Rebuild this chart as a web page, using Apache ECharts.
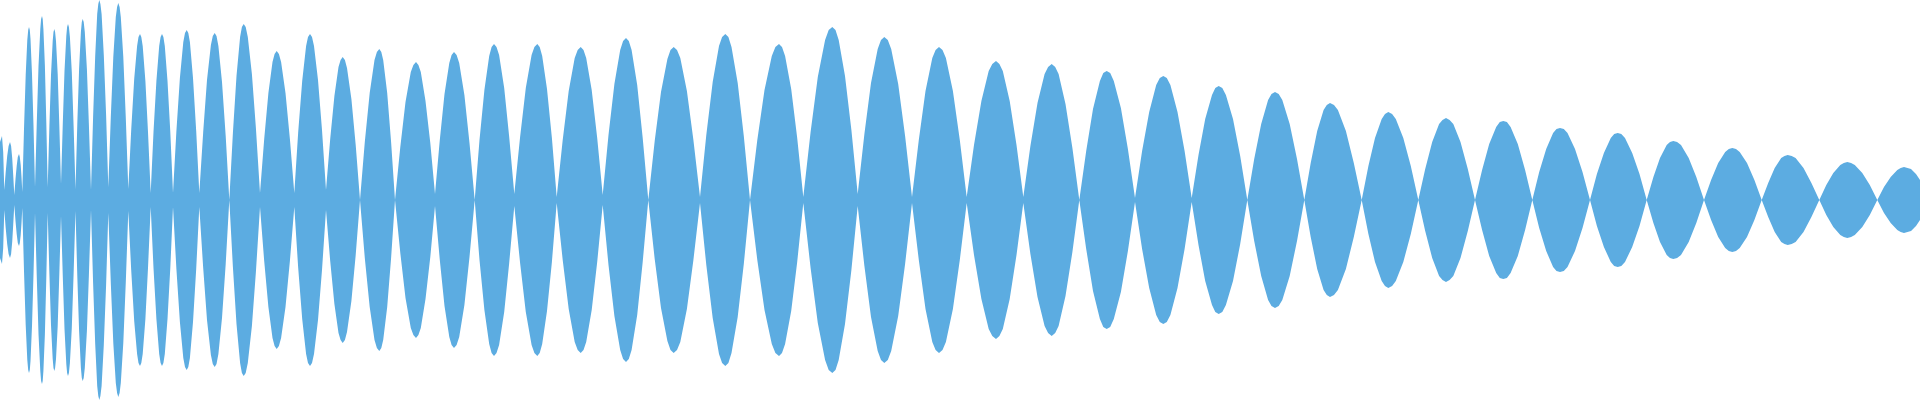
<!DOCTYPE html>
<html>
<head>
<meta charset="utf-8">
<script src="https://cdn.jsdelivr.net/npm/echarts@6/dist/echarts.min.js"></script>
<style>html,body{margin:0;padding:0;background:#fff;}#c{width:1920px;height:400px;}</style>
</head>
<body>
<div id="c"></div>
<script>
// Sample positions along the wave (x, 0..1920), one line per lobe
const waveX = [
0,2,3.2,4.3,
5.7,7.2,8.6,10,11.1,12.2,13.2,14.3,
15.5,16.7,17.8,19,19.8,20.7,21.5,22.3,
24.0,25.7,27.3,28.2,29,29.8,30.5,32,33.5,35,
36.8,38.5,40.3,41.1,42,42.7,43.4,44.9,46.3,47.7,
49.4,51.0,52.7,53.5,54.3,55.1,56.0,57.7,59.3,61,
62.8,64.5,66.3,67.1,68,68.9,69.9,71.8,73.6,75.5,
77.3,79.1,80.9,81.8,82.7,83.7,84.8,86.9,88.9,91,
93.1,95.2,97.2,98.3,99.3,100.4,101.6,103.8,106.1,108.3,
110.8,113.3,115.8,117.1,118.3,119.6,120.8,123.3,125.8,128.3,
131.2,134.2,137.1,138.5,140,141.3,142.7,145.4,148.0,150.7,
153.5,156.4,159.2,160.6,162,163.4,164.8,167.5,170.3,173,
176.4,179.9,183.3,185.0,186.7,188.3,189.9,193.0,196.2,199.3,
203.2,207.0,210.9,212.8,214.7,216.5,218.4,222.0,225.7,229.3,
232.9,236.5,240.1,241.9,243.7,245.7,247.8,251.9,255.9,260,
264.2,268.4,272.5,274.6,276.7,278.9,281.1,285.5,289.9,294.3,
298.2,302.2,306.1,308.0,310,312.0,314,318,322,326,
330.2,334.4,338.5,340.6,342.7,344.9,347.0,351.4,355.7,360,
364.8,369.7,374.5,376.9,379.3,381.3,383.2,387.2,391.1,395,
400.3,405.5,410.8,413.4,416,418.4,420.8,425.5,430.3,435,
439.8,444.5,449.3,451.6,454,456.6,459.2,464.4,469.5,474.7,
479.5,484.4,489.2,491.6,494,496.5,499.1,504.2,509.2,514.3,
520.1,525.8,531.6,534.4,537.3,539.7,542.2,547.0,551.9,556.7,
562.7,568.7,574.7,577.7,580.7,583.5,586.2,591.7,597.2,602.7,
608.5,614.4,620.2,623.1,626,628.8,631.6,637.2,642.7,648.3,
654.7,661.0,667.4,670.5,673.7,677.0,680.3,686.9,693.4,700,
706.3,712.7,719.0,722.1,725.3,728.4,731.5,737.7,743.8,750,
757.3,764.5,771.8,775.4,779,782.0,785.1,791.2,797.2,803.3,
810.6,817.8,825.1,828.7,832.3,835.5,838.7,845.0,851.4,857.7,
864.4,871.0,877.7,881.0,884.3,887.8,891.2,898.2,905.1,912,
918.8,925.5,932.3,935.6,939,942.5,945.9,952.9,959.8,966.7,
974.0,981.4,988.7,992.3,996,999.4,1002.8,1009.7,1016.5,1023.3,
1030.4,1037.5,1044.6,1048.1,1051.7,1055.2,1058.6,1065.5,1072.4,1079.3,
1086.2,1093.0,1099.9,1103.3,1106.7,1110.2,1113.8,1120.9,1127.9,1135,
1142.1,1149.2,1156.2,1159.8,1163.3,1166.8,1170.4,1177.5,1184.6,1191.7,
1198.5,1205.2,1212.0,1215.3,1218.7,1222.3,1225.9,1233.0,1240.2,1247.3,
1254.2,1261.2,1268.1,1271.5,1275,1278.7,1282.3,1289.7,1297.0,1304.3,
1310.7,1317.2,1323.6,1326.8,1330,1334.0,1337.9,1345.9,1353.8,1361.7,
1368.4,1375.0,1381.7,1385.0,1388.3,1392.1,1395.8,1403.3,1410.8,1418.3,
1425.2,1432.2,1439.1,1442.5,1446,1449.6,1453.3,1460.5,1467.8,1475,
1482.1,1489.2,1496.2,1499.8,1503.3,1506.9,1510.6,1517.8,1525.1,1532.3,
1539.2,1546.2,1553.1,1556.5,1560,1563.8,1567.5,1575,1582.5,1590,
1596.9,1603.9,1610.8,1614.2,1617.7,1621.3,1625.0,1632.2,1639.5,1646.7,
1653.4,1660.0,1666.7,1670.0,1673.3,1677.1,1681.0,1688.7,1696.3,1704,
1711.1,1718.2,1725.2,1728.8,1732.3,1736.0,1739.7,1747.0,1754.4,1761.7,
1768.2,1774.7,1781.2,1784.5,1787.7,1791.7,1795.6,1803.5,1811.4,1819.3,
1826.3,1833.3,1840.3,1843.8,1847.3,1851.1,1854.8,1862.3,1869.8,1877.3,
1884.0,1890.7,1897.3,1900.7,1904,1907.5,1911,1916,1920
];
// Envelope amplitude read at each sample position
const waveAmp = [
58,64,48,10,
28,44,54,58,54,42,25,5,
21,34,43,46,43,35,23,8,
71,125,160,170,173,170,161,126,74,13,
78,134,171,181,184,181,171,134,78,13,
74,125,159,168,171,168,159,126,75,16,
77,129,164,173,176,173,163,128,74,11,
76,131,168,178,181,178,168,131,75,10,
83,144,186,196,200,196,186,145,85,13,
83,143,183,193,197,193,183,143,82,11,
70,121,154,163,166,163,154,119,68,7,
68,119,154,163,166,163,154,119,68,7,
69,122,158,167,170,167,158,122,69,7,
68,120,155,164,167,164,154,118,64,0,
67,124,163,173,176,173,163,126,72,7,
61,107,138,146,149,146,138,107,61,7,
68,119,154,163,166,163,154,120,70,10,
61,104,133,140,143,140,132,101,55,0,
58,107,140,148,151,148,140,107,58,0,
53,98,128,135,138,135,128,99,57,6,
60,106,137,145,148,145,137,105,57,0,
60,110,144,153,156,153,145,112,63,6,
63,112,145,153,156,153,144,111,62,3,
60,109,142,150,153,150,142,110,62,5,
65,116,150,159,162,159,150,115,62,0,
59,108,141,150,153,150,142,109,60,3,
65,118,154,163,166,163,153,117,64,0,
60,110,144,153,156,153,144,111,62,3,
68,123,160,170,173,170,160,124,70,6,
66,117,151,160,163,160,151,116,64,3,
60,109,142,150,153,150,142,109,60,3,
55,99,129,136,139,136,129,99,55,3,
54,97,126,133,136,133,126,96,52,0,
49,91,119,127,129,127,119,92,51,2,
49,88,115,122,124,122,115,88,49,2,
45,81,105,112,114,112,105,81,44,0,
41,76,100,106,108,106,100,76,41,0,
37,69,90,95,97,95,90,69,37,0,
34,62,81,86,88,86,81,62,34,0,
31,58,76,80,82,80,76,58,31,0,
30,56,73,78,79,78,73,56,30,0,
28,51,67,71,72,71,67,51,28,0,
26,47,62,66,67,66,62,47,26,0,
23,42,55,58,59,58,55,42,23,0,
20,37,48,51,52,51,48,37,20,0,
17,32,42,44,45,44,42,32,17,0,
15,27,35,37,38,37,35,27,15,0,
13,23,30,32,33,32,31,26,20
];

const WAVE_COLOR = '#5cace1';
const upper = waveX.map((x, i) => [x, waveAmp[i]]);
const lower = waveX.map((x, i) => [x, -waveAmp[i]]);

const chart = echarts.init(document.getElementById('c'), null, {renderer: 'canvas'});
chart.setOption({
  animation: false,
  backgroundColor: '#ffffff',
  grid: {left: 0, right: 0, top: 0, bottom: 0, containLabel: false},
  xAxis: {type: 'value', min: 0, max: 1920, show: false},
  yAxis: {type: 'value', min: -200, max: 200, show: false},
  series: [
    {type: 'line', data: upper, showSymbol: false, symbol: 'none',
     lineStyle: {width: 0, color: WAVE_COLOR}, itemStyle: {color: WAVE_COLOR},
     areaStyle: {color: WAVE_COLOR, opacity: 1, origin: 0}, silent: true},
    {type: 'line', data: lower, showSymbol: false, symbol: 'none',
     lineStyle: {width: 0, color: WAVE_COLOR}, itemStyle: {color: WAVE_COLOR},
     areaStyle: {color: WAVE_COLOR, opacity: 1, origin: 0}, silent: true}
  ]
});
</script>
</body>
</html>
